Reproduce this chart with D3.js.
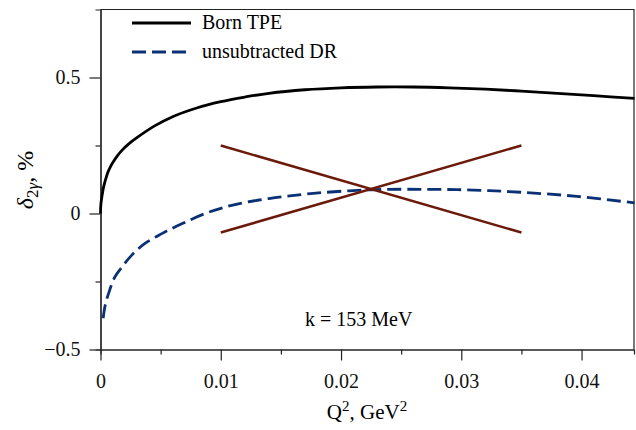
<!DOCTYPE html>
<html>
<head>
<meta charset="utf-8">
<script src="https://cdnjs.cloudflare.com/ajax/libs/d3/7.8.5/d3.min.js"></script>
<style>
  body { margin: 0; background: #fff; }
  svg { display: block; font-family: 'Liberation Serif', 'Times New Roman', serif; }
  svg text { font-family: 'Liberation Serif', 'Times New Roman', serif; }
</style>
</head>
<body>
<script>
// Born TPE curve: [Q^2 (GeV^2), delta (%)]
const bornQ2 = [0, 0.00002, 0.00006, 0.00012, 0.0002, 0.0003, 0.0004, 0.0006, 0.0008, 0.001,
  0.0014, 0.0018, 0.0024, 0.003, 0.0045, 0.006, 0.008, 0.010, 0.012,
  0.014, 0.017, 0.020, 0.023, 0.026, 0.029, 0.032, 0.035, 0.038, 0.041, 0.0444];
const bornDelta = [0, 0.027, 0.045, 0.063, 0.085, 0.105, 0.122, 0.150, 0.170, 0.186,
  0.212, 0.233, 0.258, 0.278, 0.322, 0.356, 0.388, 0.411, 0.428,
  0.442, 0.455, 0.462, 0.465, 0.465, 0.462, 0.457, 0.450, 0.442, 0.433, 0.423];

// unsubtracted DR curve
const drQ2 = [0.00022, 0.0004, 0.0007, 0.0012, 0.0018, 0.0026, 0.0037, 0.0051, 0.0068, 0.0087, 0.011,
  0.014, 0.0177, 0.0224, 0.027, 0.031, 0.035, 0.0396, 0.0444];
const drDelta = [-0.385, -0.335, -0.29, -0.233, -0.196, -0.153, -0.110, -0.074, -0.037, 0.0, 0.031,
  0.055, 0.074, 0.087, 0.089, 0.086, 0.078, 0.063, 0.039];

// crossed segments
const crossA = [[0.01, 0.25], [0.035, -0.07]];
const crossB = [[0.01, -0.07], [0.035, 0.25]];

const xMajorTicks = [0, 0.01, 0.02, 0.03, 0.04];
const xMinorTicks = [0.005, 0.015, 0.025, 0.035];
const xTickLabels = ['0', '0.01', '0.02', '0.03', '0.04'];
const yMajorTicks = [-0.5, 0, 0.5];
const yMinorTicks = [-0.25, 0.25];
const yTickLabels = ['\u22120.5', '0', '0.5'];

const legendLabels = ['Born TPE', 'unsubtracted DR'];
const annotation = 'k = 153 MeV';

const svgWidth = 636;
const svgHeight = 430;
const plotLeft = 100.5;
const plotRight = 634;
const plotTop = 9.5;
const plotBottom = 349.5;

const combine = (xs, ys) => xs.map((x, i) => [x, ys[i]]);

const svg = d3.select('body')
  .append('svg')
  .attr('width', svgWidth)
  .attr('height', svgHeight);

const xScale = d3.scaleLinear().domain([0, 0.04436]).range([plotLeft, plotRight]);
const yScale = d3.scaleLinear().domain([-0.5, 0.75]).range([plotBottom, plotTop]);

// frame (top and right)
svg.append('path')
  .attr('d', `M${plotLeft},${plotTop}H${plotRight}V${plotBottom}`)
  .attr('fill', 'none')
  .attr('stroke', '#222')
  .attr('stroke-width', 1.2);

const styleAxis = (g) => {
  g.attr('font-family', null);
  g.select('.domain').attr('stroke', '#222').attr('stroke-width', 1.2);
  g.selectAll('.tick line').attr('stroke', '#222').attr('stroke-width', 1.2);
  g.selectAll('.tick text').attr('fill', '#111').style('font-size', '20px');
};

// minor ticks first, majors on top
svg.append('g')
  .attr('transform', `translate(0,${plotBottom})`)
  .call(d3.axisBottom(xScale).tickValues(xMinorTicks).tickSize(5).tickFormat(''))
  .call(styleAxis);

svg.append('g')
  .attr('id', 'x-axis')
  .attr('transform', `translate(0,${plotBottom})`)
  .call(d3.axisBottom(xScale).tickValues(xMajorTicks).tickSize(11).tickSizeOuter(0).tickPadding(13)
    .tickFormat((d, i) => xTickLabels[i]))
  .call(styleAxis);

svg.append('g')
  .attr('transform', `translate(${plotLeft},0)`)
  .call(d3.axisLeft(yScale).tickValues(yMinorTicks).tickSize(5).tickFormat(''))
  .call(styleAxis);

svg.append('g')
  .attr('id', 'y-axis')
  .attr('transform', `translate(${plotLeft},0)`)
  .call(d3.axisLeft(yScale).tickValues(yMajorTicks).tickSize(11).tickSizeOuter(0).tickPadding(9)
    .tickFormat((d, i) => yTickLabels[i]))
  .call(styleAxis);

// curves
const line = d3.line()
  .x((d) => xScale(d[0]))
  .y((d) => yScale(d[1]))
  .curve(d3.curveCatmullRom.alpha(0.5));

svg.append('path')
  .datum(combine(bornQ2, bornDelta))
  .attr('d', line)
  .attr('fill', 'none')
  .attr('stroke', '#000')
  .attr('stroke-width', 2.8);

svg.append('path')
  .datum(combine(drQ2, drDelta))
  .attr('d', line)
  .attr('fill', 'none')
  .attr('stroke', '#0a3175')
  .attr('stroke-width', 2.8)
  .attr('stroke-dasharray', '14,6');

const straight = d3.line().x((d) => xScale(d[0])).y((d) => yScale(d[1]));
[crossA, crossB].forEach((seg) => {
  svg.append('path')
    .datum(seg)
    .attr('d', straight)
    .attr('stroke', '#6b1a0c')
    .attr('stroke-width', 2.5);
});

// legend
const legend = svg.append('g');
const legendStyles = [
  { color: '#000', dash: null },
  { color: '#0a3175', dash: '14,6' }
];
legendLabels.forEach((label, i) => {
  const y = 23 + i * 29;
  legend.append('line')
    .attr('x1', 132).attr('x2', 191)
    .attr('y1', y).attr('y2', y)
    .attr('stroke', legendStyles[i].color)
    .attr('stroke-width', 2.8)
    .attr('stroke-dasharray', legendStyles[i].dash);
  legend.append('text')
    .attr('x', 202)
    .attr('y', y + 6)
    .style('font-size', '20px')
    .text(label);
});

// annotation
svg.append('text')
  .attr('x', 305)
  .attr('y', 326)
  .style('font-size', '20px')
  .text(annotation);

// x axis title
const xTitle = svg.append('text')
  .attr('x', 367)
  .attr('y', 419)
  .attr('text-anchor', 'middle')
  .style('font-size', '21px');
xTitle.append('tspan').text('Q');
xTitle.append('tspan').attr('dy', -8).style('font-size', '15px').text('2');
xTitle.append('tspan').attr('dy', 8).text(', GeV');
xTitle.append('tspan').attr('dy', -8).style('font-size', '15px').text('2');

// y axis title
const yTitle = svg.append('text')
  .attr('transform', 'translate(33,180) rotate(-90)')
  .attr('text-anchor', 'middle')
  .style('font-size', '24px');
yTitle.append('tspan').style('font-style', 'italic').text('\u03b4');
yTitle.append('tspan').attr('dy', 5).style('font-size', '17px').text('2');
yTitle.append('tspan').style('font-size', '17px').style('font-style', 'italic').text('\u03b3');
yTitle.append('tspan').attr('dy', -5).text(', %');
</script>
</body>
</html>
